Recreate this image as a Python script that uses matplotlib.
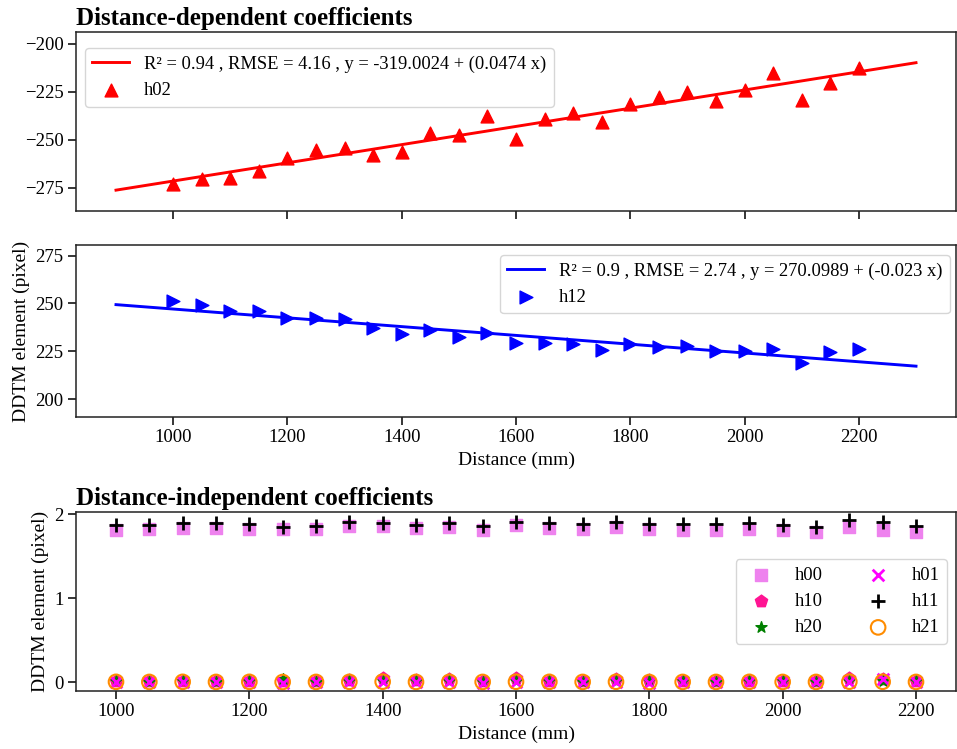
import numpy as np
import matplotlib
matplotlib.use("Agg")
import matplotlib.pyplot as plt

# ---- data -------------------------------------------------------------
distance = [1000, 1050, 1100, 1150, 1200, 1250, 1300, 1350, 1400, 1450,
            1500, 1550, 1600, 1650, 1700, 1750, 1800, 1850, 1900, 1950,
            2000, 2050, 2100, 2150, 2200]
fit_range = [900, 2300]

h02 = [-272.9, -270.7, -270.2, -266.3, -259.4, -255.2, -254.2, -257.8, -256.3,
       -246.7, -247.8, -237.7, -249.5, -239.5, -236.3, -240.8, -231.4, -228.0,
       -225.4, -229.7, -224.0, -215.1, -229.5, -220.3, -213.0]
h02_fit = {"r2": 0.94, "rmse": 4.16, "a": -319.0024, "b": 0.0474}

h12 = [251.3, 249.2, 245.9, 245.9, 242.4, 242.4, 241.7, 237.0, 233.9, 236.0,
       232.3, 234.7, 229.2, 229.2, 229.0, 225.5, 228.7, 227.4, 227.8, 225.2,
       225.0, 226.4, 219.1, 224.5, 226.1]
h12_fit = {"r2": 0.9, "rmse": 2.74, "a": 270.0989, "b": -0.023}

h00 = [1.812, 1.821, 1.833, 1.833, 1.816, 1.821, 1.816, 1.852, 1.860, 1.828,
       1.848, 1.804, 1.868, 1.828, 1.821, 1.848, 1.821, 1.808, 1.804, 1.824,
       1.812, 1.785, 1.840, 1.804, 1.789]
h11 = [1.864, 1.864, 1.892, 1.888, 1.876, 1.840, 1.857, 1.908, 1.888, 1.864,
       1.896, 1.860, 1.904, 1.896, 1.880, 1.904, 1.876, 1.876, 1.876, 1.888,
       1.872, 1.848, 1.928, 1.904, 1.857]
h10 = [0.015, 0.012, 0.018, 0.014, 0.016, 0.010, 0.012, 0.022, 0.050, 0.020,
       0.030, 0.012, 0.050, 0.018, 0.015, 0.040, 0.020, 0.014, 0.012, 0.016,
       0.018, 0.012, 0.050, 0.030, 0.012]
h20 = [0.010, 0.005, 0.008, 0.006, 0.010, 0.030, 0.006, 0.008, 0.012, 0.010,
       0.008, 0.006, 0.010, 0.008, 0.006, 0.010, 0.012, 0.008, 0.006, 0.008,
       0.010, 0.006, 0.012, 0.010, 0.008]
h01 = [-0.005, -0.002, 0.000, -0.003, -0.004, -0.010, -0.002, -0.004, 0.002, -0.003,
       0.000, -0.006, 0.004, -0.002, -0.004, 0.002, -0.008, -0.003, -0.002, -0.002,
       -0.004, -0.002, 0.006, 0.030, -0.003]
h21 = [0.002, 0.001, 0.002, 0.001, 0.002, 0.000, 0.001, 0.002, 0.004, 0.001,
       0.002, 0.001, 0.003, 0.002, 0.001, 0.003, 0.000, 0.001, 0.001, 0.002,
       0.001, 0.001, 0.004, 0.003, 0.001]

# ---- style ------------------------------------------------------------
plt.rcParams["font.family"] = ["Liberation Serif", "DejaVu Serif"]
plt.rcParams["axes.linewidth"] = 1.1
plt.rcParams["axes.edgecolor"] = "#222222"
plt.rcParams["xtick.major.width"] = 1.1
plt.rcParams["ytick.major.width"] = 1.1
plt.rcParams["xtick.major.size"] = 5.5
plt.rcParams["ytick.major.size"] = 5.5
plt.rcParams["xtick.labelsize"] = 13.5
plt.rcParams["ytick.labelsize"] = 13.5
plt.rcParams["axes.labelsize"] = 14
plt.rcParams["legend.fontsize"] = 13.3

W, H = 957, 749
fig = plt.figure(figsize=(W / 100, H / 100), dpi=100)


def axes_at(left, top, right, bottom, **kw):
    return fig.add_axes([left / W, 1 - bottom / H, (right - left) / W, (bottom - top) / H], **kw)


ax1 = axes_at(76, 32, 956, 211)
ax2 = axes_at(76, 245, 956, 417, sharex=ax1)
ax3 = axes_at(76, 512, 956, 691)

title_kw = dict(loc="left", fontsize=18, fontweight="bold", pad=5)


def fit_label(f):
    return f"R\u00b2 = {f['r2']} , RMSE = {f['rmse']} , y = {f['a']} + ({f['b']} x)"


xf = np.array(fit_range)

# distance-dependent: h02
ax1.plot(xf, h02_fit["a"] + h02_fit["b"] * xf, color="red", lw=2.1, label=fit_label(h02_fit))
ax1.scatter(distance, h02, marker="^", s=85, color="red", label="h02", zorder=3)
ax1.set_xlim(830, 2370)
ax1.set_ylim(-287.2, -194)
ax1.set_yticks([-275, -250, -225, -200])
ax1.tick_params(labelbottom=False)
ax1.set_title("Distance-dependent coefficients", **title_kw)
ax1.legend(loc="upper left", bbox_to_anchor=(0.0102, 0.909), borderaxespad=0)

# distance-dependent: h12
ax2.plot(xf, h12_fit["a"] + h12_fit["b"] * xf, color="blue", lw=2.1, label=fit_label(h12_fit))
ax2.scatter(distance, h12, marker=">", s=85, color="blue", label="h12", zorder=3)
ax2.set_ylim(190.6, 280.6)
ax2.set_yticks([200, 225, 250, 275])
ax2.set_xticks([1000, 1200, 1400, 1600, 1800, 2000, 2200])
ax2.set_xlabel("Distance (mm)")
ax2.set_ylabel("DDTM element (pixel)")
ax2.legend(loc="upper right", bbox_to_anchor=(0.993, 0.942), borderaxespad=0)

# distance-independent coefficients
ax3.scatter(distance, h00, marker="s", s=85, color="violet", label="h00")
ax3.scatter(distance, h10, marker="p", s=85, color="deeppink", label="h10")
ax3.scatter(distance, h20, marker="*", s=70, color="green", label="h20")
ax3.scatter(distance, h01, marker="x", s=70, color="magenta", linewidths=2, label="h01")
ax3.scatter(distance, h11, marker="+", s=100, color="black", linewidths=2, label="h11")
ax3.scatter(distance, h21, marker="o", s=110, facecolors="none", edgecolors="darkorange",
            linewidths=1.5, label="h21")
ax3.set_xlim(940, 2260)
ax3.set_ylim(-0.107, 2.024)
ax3.set_yticks([0, 1, 2])
ax3.set_xticks([1000, 1200, 1400, 1600, 1800, 2000, 2200])
ax3.set_xlabel("Distance (mm)")
ax3.set_ylabel("DDTM element (pixel)")
ax3.set_title("Distance-independent coefficients", **title_kw)
ax3.legend(loc="center right", ncol=2)

fig.savefig("out.png", dpi=100)
